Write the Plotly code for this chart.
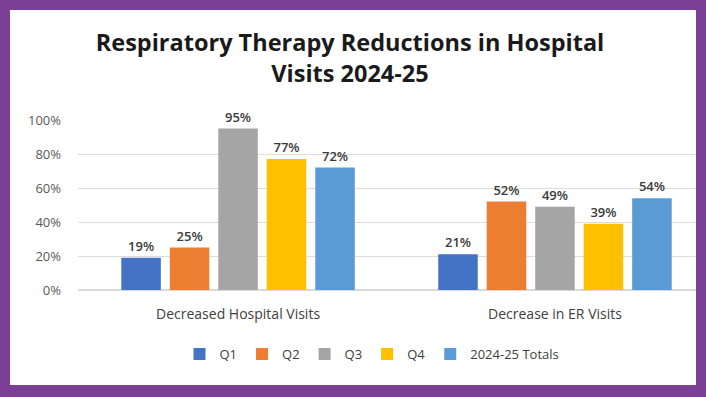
import plotly.graph_objects as go

categories = ["Decreased Hospital Visits", "Decrease in ER Visits"]
series_names = ["Q1", "Q2", "Q3", "Q4", "2024-25 Totals"]
q1 = [0.19, 0.21]
q2 = [0.25, 0.52]
q3 = [0.95, 0.49]
q4 = [0.77, 0.39]
totals = [0.72, 0.54]
colors = ["#4472C4", "#ED7D31", "#A5A5A5", "#FFC000", "#5B9BD5"]
y_ticks = [0, 0.2, 0.4, 0.6, 0.8, 1.0]
y_tick_labels = ["0%", "20%", "40%", "60%", "80%", "100%"]

W, H = 706, 397
L, R, T, B = 78, 10, 120, 107
pw = W - L - R
ph = H - T - B
FONT = "Open Sans"

fig = go.Figure()
for name, vals, col in zip(series_names, [q1, q2, q3, q4, totals], colors):
    fig.add_trace(go.Bar(
        name=name, x=categories, y=vals, marker=dict(color=col, line=dict(width=0)),
        text=[f"{round(v*100)}%" for v in vals], textposition="outside",
        textfont=dict(family=FONT, size=13, color="#3a3a3a", weight=600),
        cliponaxis=False,
    ))

def px_x(p):
    return (p - L) / pw

def px_y(p):
    return (H - B - p) / ph

fig.update_layout(
    width=W, height=H,
    margin=dict(l=L, r=R, t=T, b=B),
    paper_bgcolor="#7B3F96",
    plot_bgcolor="white",
    barmode="group", bargap=0.235, bargroupgap=0.185,
    title=dict(text="<b>Respiratory Therapy Reductions in Hospital<br>Visits 2024-25</b>",
               x=px_x(350), xref="paper", xanchor="center",
               y=1 - 51 / H, yref="container", yanchor="middle",
               font=dict(family=FONT, size=23.5, color="#1a1a1a")),
    showlegend=True,
    legend=dict(orientation="h", x=px_x(372), xanchor="center", y=px_y(354), yanchor="middle",
                font=dict(family=FONT, size=13, color="#404040"), traceorder="normal",
                itemwidth=30, bgcolor="rgba(0,0,0,0)"),
    shapes=[dict(type="rect", xref="paper", yref="paper", x0=px_x(10), x1=px_x(696),
                 y0=px_y(385), y1=px_y(10), fillcolor="white", line=dict(width=0), layer="below")],
    xaxis=dict(range=[-0.505, 1.445], showgrid=False, showline=False, ticks="",
               ticklabelstandoff=14,
               tickfont=dict(family=FONT, size=14, color="#404040")),
    yaxis=dict(range=[0, 1.0], tickvals=y_ticks, ticktext=y_tick_labels, showgrid=True,
               gridcolor="#DDDDDD", gridwidth=1, zeroline=True, zerolinecolor="#D9D9D9",
               showline=False, ticks="", ticklabelstandoff=16,
               tickfont=dict(family=FONT, size=13, color="#595959")),
)

fig.write_html("out.html", config={"displayModeBar": False},
               post_script="document.body.style.margin='0';document.body.style.padding='0';")
